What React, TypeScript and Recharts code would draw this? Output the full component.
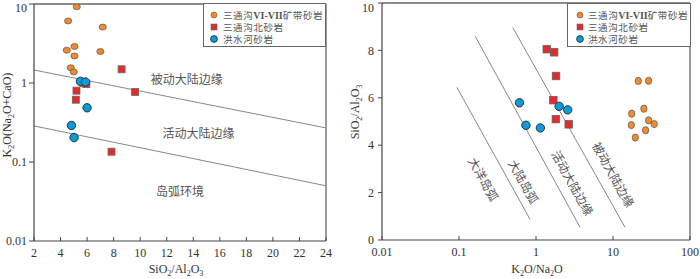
import React from 'react';
import { ScatterChart, Scatter, XAxis, YAxis, ReferenceLine, ReferenceDot, Legend } from 'recharts';

const seriesNames = ['三通沟VI-VII矿带砂岩', '三通沟北砂岩', '洪水河砂岩'];

// left: SiO2/Al2O3 vs K2O/(Na2O+CaO)
const leftXTicks = [2, 4, 6, 8, 10, 12, 14, 16, 18, 20, 22, 24];
const leftYTicks = [0.01, 0.1, 1, 10];
const orangeSiAl = [5.22, 4.57, 7.18, 5.05, 4.47, 7.0, 5.05, 4.77, 5.0, 5.65];
const orangeKRatio = [9.2, 6.1, 5.1, 2.9, 2.6, 2.5, 2.2, 1.56, 1.38, 0.97];
const redSiAl = [8.6, 9.62, 5.2, 5.15, 5.95, 7.84];
const redKRatio = [1.49, 0.77, 0.8, 0.615, 0.97, 0.135];
const blueSiAl = [5.5, 5.88, 6.0, 4.82, 5.02];
const blueKRatio = [1.05, 1.03, 0.486, 0.29, 0.204];
// boundary lines, [x1, y1, x2, y2]
const leftBoundaries = [
  [2, 1.46, 24, 0.27],
  [2, 0.286, 24, 0.05],
];

// right: K2O/Na2O vs SiO2/Al2O3
const rightXTicks = [0.01, 0.1, 1, 10, 100];
const rightYTicks = [0, 2, 4, 6, 8, 10];
const orangeKNa = [21.3, 29, 25.2, 17.5, 29, 34.3, 17.3, 26.5, 19.5];
const orangeSiAl2 = [6.71, 6.72, 5.54, 5.33, 5.05, 4.89, 4.85, 4.63, 4.32];
const redKNa = [1.38, 1.72, 1.82, 1.68, 1.81, 2.66];
const redSiAl2 = [8.05, 7.92, 6.92, 5.9, 5.1, 4.88];
const blueKNa = [0.61, 0.74, 1.14, 2.0, 2.58];
const blueSiAl2 = [5.79, 4.84, 4.73, 5.64, 5.49];
const rightBoundaries = [
  [0.094, 6.44, 0.837, 0.87],
  [0.162, 8.6, 3.73, 0.54],
  [0.5, 8.96, 14.3, 0.54],
];

const ORANGE = '#F28A2E';
const RED = '#E42B2B';
const BLUE = '#0A9BDB';
const SERIF = '"Liberation Serif", "DejaVu Serif", serif';
const CJK = '"Noto Sans CJK SC", sans-serif';

const zip = (xs: number[], ys: number[]) => xs.map((x, i) => ({ x, y: ys[i] }));

const fmt = (v: number) => String(v);

const ellipse = (rx: number, ry: number) => (p: any) => (
  <ellipse cx={p.cx} cy={p.cy} rx={rx} ry={ry} fill={ORANGE} stroke="#555" strokeWidth={0.7} />
);
const square = (s: number) => (p: any) => (
  <rect x={p.cx - s / 2} y={p.cy - s / 2} width={s} height={s} fill={RED} stroke="#666" strokeWidth={0.8} />
);
const dot = (r: number) => (p: any) => (
  <circle cx={p.cx} cy={p.cy} r={r} fill={BLUE} stroke="#222" strokeWidth={0.9} />
);

// text with _n subscripts
function Formula({ x, y, text, vertical }: { x: number; y: number; text: string; vertical?: boolean }) {
  const parts = text.split(/(_\d)/).filter(Boolean);
  return (
    <text
      x={x}
      y={y}
      textAnchor="middle"
      fontSize={12}
      fill="#333"
      fontFamily={SERIF}
      transform={vertical ? `rotate(-90 ${x} ${y})` : undefined}
    >
      {parts.map((p, i) =>
        p.startsWith('_') ? (
          <tspan key={i} fontSize={8} dy={2.5}>
            {p.slice(1)}
          </tspan>
        ) : (
          <tspan key={i} dy={i > 0 && parts[i - 1].startsWith('_') ? -2.5 : 0}>
            {p}
          </tspan>
        )
      )}
    </text>
  );
}

// latin bits of the names are set in serif bold
function LegendName({ name }: { name: string }) {
  return (
    <>
      {name.split(/([A-Z-]+)/).filter(Boolean).map((s, i) =>
        /[A-Z]/.test(s) ? (
          <span key={i} style={{ fontFamily: SERIF, fontWeight: 'bold', fontSize: 10, letterSpacing: 0 }}>
            {s}
          </span>
        ) : (
          <span key={i}>{s}</span>
        )
      )}
    </>
  );
}

function LegendBox({ width, markerX, textX }: { width: number; markerX: number; textX: number }) {
  const markers = [
    <circle cx={markerX} cy={6} r={3} fill={ORANGE} stroke="#555" strokeWidth={0.6} />,
    <rect x={markerX - 3} y={3} width={6} height={6} fill={RED} stroke="#666" strokeWidth={0.6} />,
    <circle cx={markerX} cy={6} r={3.4} fill={BLUE} stroke="#222" strokeWidth={0.8} />,
  ];
  return (
    <div style={{ width, height: 44, border: '1px solid #666', background: '#fff', boxSizing: 'border-box', paddingTop: 5 }}>
      {seriesNames.map((name, i) => (
        <div key={name} style={{ position: 'relative', height: 12, lineHeight: '12px' }}>
          <svg width={markerX + 5} height={12} style={{ position: 'absolute', left: 0, top: 0 }}>
            {markers[i]}
          </svg>
          <span
            style={{
              position: 'absolute',
              left: textX,
              top: 0,
              fontSize: 9.5,
              letterSpacing: 0.6,
              color: '#555',
              fontFamily: CJK,
              whiteSpace: 'nowrap',
            }}
          >
            <LegendName name={name} />
          </span>
        </div>
      ))}
    </div>
  );
}

const tickStyle = { fontSize: 12, fill: '#333', fontFamily: SERIF };
const axisStyle = { stroke: '#444', strokeWidth: 1.2 };
const zoneLabel = (value: string, angle = 0) => ({
  value,
  position: 'center' as const,
  fill: '#555',
  fontSize: 12,
  fontFamily: CJK,
  angle,
});

export default function App() {
  return (
    <div style={{ position: 'absolute', left: 0, top: 0, width: 700, height: 279, background: '#fff' }}>
      <div style={{ position: 'absolute', left: 0, top: 0 }}>
        <ScatterChart width={340} height={279} margin={{ top: 4, right: 14, bottom: 0, left: 0 }}>
          <XAxis
            type="number"
            dataKey="x"
            domain={[2, 24]}
            ticks={leftXTicks}
            height={38}
            tick={tickStyle}
            tickSize={-4}
            tickMargin={11}
            axisLine={axisStyle}
            tickLine={{ stroke: '#444' }}
            label={{ content: () => <Formula x={176} y={273} text="SiO_2/Al_2O_3" /> }}
          />
          <YAxis
            type="number"
            dataKey="y"
            scale="log"
            domain={[0.01, 10]}
            allowDataOverflow
            ticks={leftYTicks}
            tickFormatter={fmt}
            width={34}
            tick={tickStyle}
            tickSize={5}
            tickMargin={2}
            axisLine={axisStyle}
            tickLine={{ stroke: '#444' }}
            label={{ content: () => <Formula x={11} y={115} text="K_2O(Na_2O+CaO)" vertical /> }}
          />
          <ReferenceLine y={10} stroke="#666" strokeWidth={1.3} />
          <ReferenceLine x={24} stroke="#666" strokeWidth={1.3} />
          {leftBoundaries.map((b, i) => (
            <ReferenceLine
              key={i}
              segment={[{ x: b[0], y: b[1] }, { x: b[2], y: b[3] }]}
              stroke="#888"
              strokeWidth={1}
            />
          ))}
          <ReferenceDot x={13.5} y={1.09} r={0} fill="none" stroke="none" label={zoneLabel('被动大陆边缘')} />
          <ReferenceDot x={14.4} y={0.226} r={0} fill="none" stroke="none" label={zoneLabel('活动大陆边缘')} />
          <ReferenceDot x={13.0} y={0.042} r={0} fill="none" stroke="none" label={zoneLabel('岛弧环境')} />
          <Scatter name={seriesNames[0]} data={zip(orangeSiAl, orangeKRatio)} shape={ellipse(3.6, 3)} isAnimationActive={false} />
          <Scatter name={seriesNames[1]} data={zip(redSiAl, redKRatio)} shape={square(7)} isAnimationActive={false} />
          <Scatter name={seriesNames[2]} data={zip(blueSiAl, blueKRatio)} shape={dot(4.2)} isAnimationActive={false} />
          <Legend
            layout="vertical"
            align="center"
            verticalAlign="middle"
            wrapperStyle={{ left: 203, top: 3, width: 123, height: 44 }}
            content={() => <LegendBox width={123} markerX={10} textX={19} />}
          />
        </ScatterChart>
      </div>
      <div style={{ position: 'absolute', left: 340, top: 0 }}>
        <ScatterChart width={360} height={279} margin={{ top: 3, right: 10, bottom: 0, left: 0 }}>
          <XAxis
            type="number"
            dataKey="x"
            scale="log"
            domain={[0.01, 100]}
            allowDataOverflow
            ticks={rightXTicks}
            tickFormatter={fmt}
            height={39}
            tick={tickStyle}
            tickSize={-4}
            tickMargin={11}
            axisLine={axisStyle}
            tickLine={{ stroke: '#444' }}
            label={{ content: () => <Formula x={197} y={273} text="K_2O/Na_2O" /> }}
          />
          <YAxis
            type="number"
            dataKey="y"
            domain={[0, 10]}
            ticks={rightYTicks}
            width={42}
            tick={tickStyle}
            tickSize={4}
            tickMargin={4}
            axisLine={axisStyle}
            tickLine={{ stroke: '#444' }}
            label={{ content: () => <Formula x={19} y={112} text="SiO_2/Al_2O_3" vertical /> }}
          />
          <ReferenceLine y={10} stroke="#666" strokeWidth={1.3} />
          <ReferenceLine x={100} stroke="#666" strokeWidth={1.3} />
          {rightBoundaries.map((b, i) => (
            <ReferenceLine
              key={i}
              segment={[{ x: b[0], y: b[1] }, { x: b[2], y: b[3] }]}
              stroke="#888"
              strokeWidth={1}
            />
          ))}
          <ReferenceDot x={0.206} y={2.55} r={0} fill="none" stroke="none" label={zoneLabel('大洋岛弧', 61)} />
          <ReferenceDot x={0.68} y={2.45} r={0} fill="none" stroke="none" label={zoneLabel('大陆岛弧', 61)} />
          <ReferenceDot x={2.94} y={2.4} r={0} fill="none" stroke="none" label={zoneLabel('活动大陆边缘', 61)} />
          <ReferenceDot x={10} y={2.74} r={0} fill="none" stroke="none" label={zoneLabel('被动大陆边缘', 61)} />
          <Scatter name={seriesNames[0]} data={zip(orangeKNa, orangeSiAl2)} shape={ellipse(3.2, 3.6)} isAnimationActive={false} />
          <Scatter name={seriesNames[1]} data={zip(redKNa, redSiAl2)} shape={square(7.5)} isAnimationActive={false} />
          <Scatter name={seriesNames[2]} data={zip(blueKNa, blueSiAl2)} shape={dot(4.2)} isAnimationActive={false} />
          <Legend
            layout="vertical"
            align="center"
            verticalAlign="middle"
            wrapperStyle={{ left: 227, top: 3, width: 124, height: 45 }}
            content={() => <LegendBox width={124} markerX={12} textX={20} />}
          />
        </ScatterChart>
      </div>
    </div>
  );
}
